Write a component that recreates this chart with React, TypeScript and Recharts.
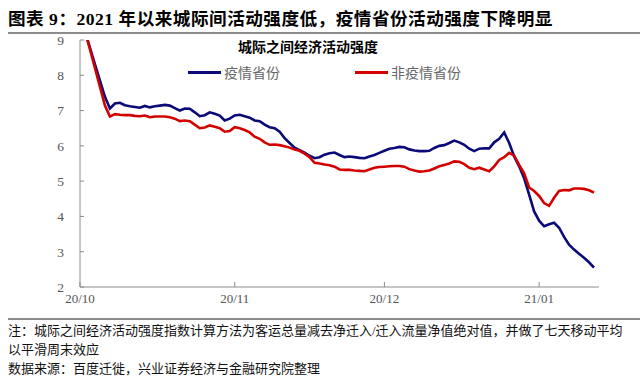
import { LineChart, Line, XAxis, YAxis } from "recharts"

const TICK_DAYS = [0, 31, 61, 92]
const TICK_LABELS = ["20/10", "20/11", "20/12", "21/01"]
const Y_TICKS = [2, 3, 4, 5, 6, 7, 8, 9]

// 日度值（10/2 起），读自原图
const EPIDEMIC = [
  9.25, 8.78, 8.31, 7.85, 7.39, 7.06, 7.2, 7.22, 7.15, 7.12,
  7.1, 7.08, 7.13, 7.09, 7.12, 7.14, 7.16, 7.14, 7.07, 7.0,
  7.06, 7.05, 6.95, 6.84, 6.87, 6.95, 6.91, 6.86, 6.72, 6.77,
  6.86, 6.88, 6.84, 6.8, 6.72, 6.7, 6.6, 6.53, 6.5, 6.4,
  6.22, 6.08, 5.95, 5.88, 5.81, 5.72, 5.65, 5.68, 5.75, 5.79,
  5.81, 5.74, 5.68, 5.7, 5.68, 5.66, 5.65, 5.7, 5.74, 5.8,
  5.86, 5.92, 5.94, 5.97, 5.96, 5.9, 5.87, 5.85, 5.85, 5.86,
  5.94, 6.0, 6.02, 6.08, 6.15, 6.1, 6.03, 5.92, 5.85, 5.92,
  5.93, 5.93, 6.1, 6.2, 6.38, 6.08, 5.7, 5.42, 5.08, 4.62,
  4.14, 3.88, 3.72, 3.78, 3.82, 3.68, 3.42, 3.2, 3.06, 2.94,
  2.83, 2.7, 2.55,
]
const NON_EPIDEMIC = [
  9.25, 8.73, 8.2, 7.67, 7.14, 6.83, 6.9, 6.88, 6.87, 6.87,
  6.85, 6.84, 6.86, 6.81, 6.83, 6.83, 6.83, 6.81, 6.77, 6.7,
  6.72, 6.7, 6.6, 6.5, 6.52, 6.58, 6.54, 6.5, 6.4, 6.42,
  6.53, 6.5, 6.45, 6.38, 6.26, 6.2, 6.1, 6.03, 6.04, 6.02,
  5.99, 5.95, 5.9, 5.86, 5.78, 5.68, 5.52, 5.5, 5.47, 5.45,
  5.41, 5.33, 5.32, 5.32, 5.3, 5.29, 5.28, 5.33, 5.38, 5.4,
  5.41, 5.42, 5.43, 5.43, 5.41, 5.34, 5.3, 5.27, 5.28, 5.3,
  5.36, 5.42, 5.46, 5.5, 5.56, 5.55, 5.48, 5.38, 5.34, 5.38,
  5.33, 5.28, 5.42, 5.6, 5.68, 5.8, 5.72, 5.46, 5.22, 4.82,
  4.72, 4.58, 4.38, 4.3, 4.53, 4.72, 4.75, 4.74, 4.79, 4.79,
  4.78, 4.74, 4.68,
]

const data = EPIDEMIC.map((v, i) => ({ day: i + 1, epidemic: v, other: NON_EPIDEMIC[i] }))

const SERIF = '"Liberation Serif", "Times New Roman", "Noto Sans CJK SC", serif'
const CJK = '"Noto Sans CJK SC", sans-serif'
const NAVY = "#0a0a78"
const RED = "#d40000"

export default function App() {
  return (
    <div style={{ position: "absolute", left: 0, top: 0, width: 640, height: 377, background: "#fff", overflow: "hidden" }}>
      <div style={{ position: "absolute", left: 8, top: 5, fontFamily: SERIF, fontWeight: 700, fontSize: 17.6, letterSpacing: 0.5, color: "#000", whiteSpace: "nowrap" }}>
        图表 9：2021 年以来城际间活动强度低，疫情省份活动强度下降明显
      </div>
      <div style={{ position: "absolute", left: 8, right: 0, top: 32, height: 2, background: "#8c8c8c" }} />

      <div style={{ position: "absolute", top: 0, left: 0 }}>
        <LineChart width={640} height={320} data={data} margin={{ top: 40, right: 41, left: 0, bottom: 0 }}>
          <XAxis
            dataKey="day"
            type="number"
            domain={[0, 104]}
            ticks={TICK_DAYS}
            tickFormatter={(d: number) => TICK_LABELS[TICK_DAYS.indexOf(d)]}
            height={33}
            tickSize={-5}
            tickMargin={12}
            stroke="#8c8c8c"
            tick={{ fill: "#555", fontSize: 13, fontFamily: SERIF }}
          />
          <YAxis
            domain={[2, 9]}
            ticks={Y_TICKS}
            allowDataOverflow
            width={80}
            tickSize={-4}
            tickMargin={20}
            stroke="#8c8c8c"
            tick={{ fill: "#555", fontSize: 13.5, fontFamily: SERIF }}
          />
          <Line dataKey="epidemic" stroke={NAVY} strokeWidth={2.6} dot={false} isAnimationActive={false} />
          <Line dataKey="other" stroke={RED} strokeWidth={2.6} dot={false} isAnimationActive={false} />
        </LineChart>
      </div>

      <div style={{ position: "absolute", left: 238, top: 36, fontFamily: CJK, fontWeight: 700, fontSize: 14, color: "#000" }}>
        城际之间经济活动强度
      </div>
      <div style={{ position: "absolute", left: 188, top: 62, display: "flex", alignItems: "center", fontFamily: CJK, fontSize: 14, color: "#666" }}>
        <span style={{ width: 33, height: 3, background: NAVY, marginRight: 3 }} />
        疫情省份
      </div>
      <div style={{ position: "absolute", left: 355, top: 62, display: "flex", alignItems: "center", fontFamily: CJK, fontSize: 14, color: "#666" }}>
        <span style={{ width: 33, height: 3, background: RED, marginRight: 3 }} />
        非疫情省份
      </div>

      <div style={{ position: "absolute", left: 8, right: 0, top: 318, height: 1.5, background: "#8c8c8c" }} />
      <div style={{ position: "absolute", left: 8, top: 321, width: 632, fontFamily: SERIF, fontSize: 13, lineHeight: "19px", color: "#111", whiteSpace: "nowrap" }}>
        注：城际之间经济活动强度指数计算方法为客运总量减去净迁入/迁入流量净值绝对值，并做了七天移动平均
        <br />
        以平滑周末效应
        <br />
        数据来源：百度迁徙，兴业证券经济与金融研究院整理
      </div>
    </div>
  )
}
